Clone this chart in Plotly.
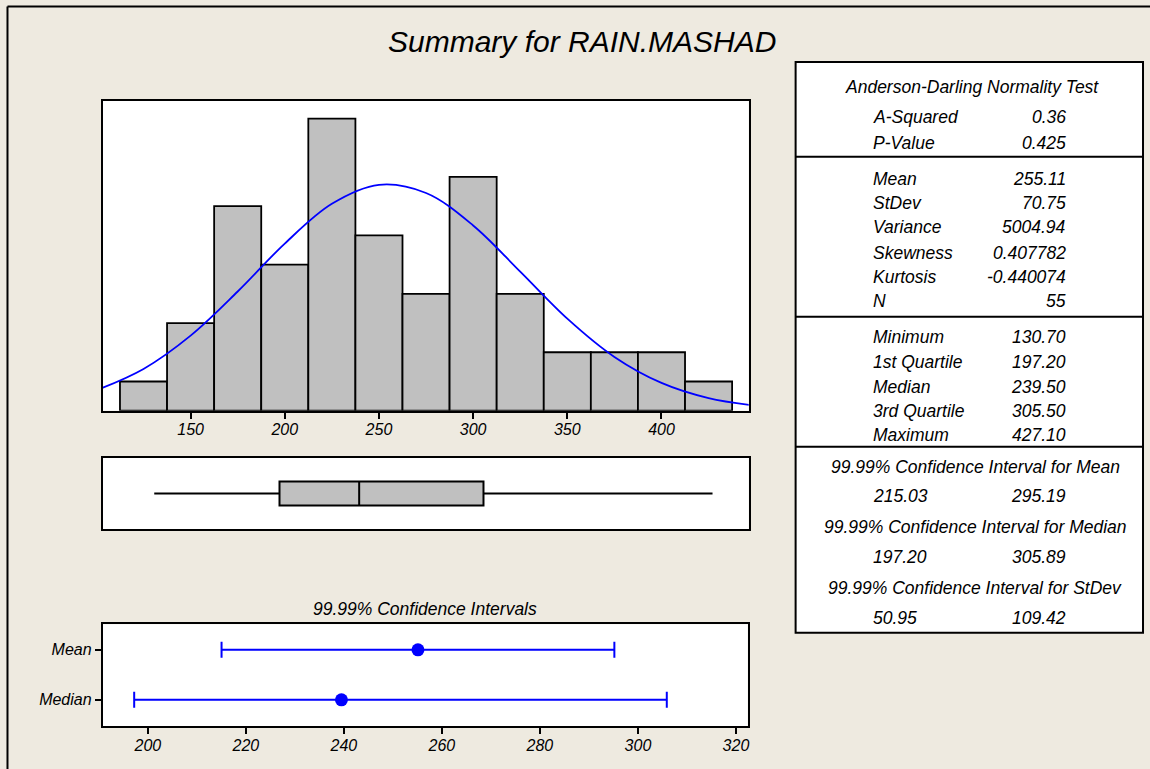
import plotly.graph_objects as go

# --- data ------------------------------------------------------------------
BIN_CENTERS = [125, 150, 175, 200, 225, 250, 275, 300, 325, 350, 375, 400, 425]
BIN_COUNTS = [1, 3, 7, 5, 10, 6, 4, 8, 4, 2, 2, 2, 1]
BIN_WIDTH = 25

# fitted normal curve (counts scale)
CURVE_X = [100, 125, 150, 175, 200, 225, 250, 275, 300, 325, 350, 375, 400, 425, 450]
CURVE_Y = [0.70, 1.43, 2.57, 4.08, 5.72, 7.08, 7.73, 7.45, 6.34, 4.76, 3.15, 1.84, 0.95, 0.43, 0.17]

# five-number summary for the boxplot
BOX_MIN, BOX_Q1, BOX_MEDIAN, BOX_Q3, BOX_MAX = 130.70, 197.20, 239.50, 305.50, 427.10

# 99.99% confidence intervals
CI_LABELS = ["Mean", "Median"]
CI_CENTER = [255.11, 239.50]
CI_LOWER = [215.03, 197.20]
CI_UPPER = [295.19, 305.89]
CI_TICKS = [200, 220, 240, 260, 280, 300, 320]
HIST_TICKS = [150, 200, 250, 300, 350, 400]

# summary table
AD_LABELS = ["A-Squared", "P-Value"]
AD_VALUES = ["0.36", "0.425"]
MOM_LABELS = ["Mean", "StDev", "Variance", "Skewness", "Kurtosis", "N"]
MOM_VALUES = ["255.11", "70.75", "5004.94", "0.407782", "-0.440074", "55"]
Q_LABELS = ["Minimum", "1st Quartile", "Median", "3rd Quartile", "Maximum"]
Q_VALUES = ["130.70", "197.20", "239.50", "305.50", "427.10"]
CI_TABLE_HEADERS = [
    "99.99% Confidence Interval for Mean",
    "99.99% Confidence Interval for Median",
    "99.99% Confidence Interval for StDev",
]
CI_TABLE_LOW = ["215.03", "197.20", "50.95"]
CI_TABLE_HIGH = ["295.19", "305.89", "109.42"]

# --- layout helpers ---------------------------------------------------------
W, H = 1150, 769
FONT = "Arial, Liberation Sans, sans-serif"
BG = "#EEEAE0"
GREY = "#C0C0C0"
BLUE = "#0000FF"


def px(x):
    return x / W


def py(y):
    return 1 - y / H


fig = go.Figure()

# histogram
fig.add_trace(go.Bar(
    x=BIN_CENTERS, y=BIN_COUNTS, width=BIN_WIDTH,
    marker=dict(color=GREY, line=dict(color="black", width=1.8)),
    xaxis="x", yaxis="y", hoverinfo="skip",
))
fig.add_trace(go.Scatter(
    x=CURVE_X, y=CURVE_Y, mode="lines", line=dict(color=BLUE, width=1.8, shape="spline"),
    xaxis="x", yaxis="y", hoverinfo="skip",
))

# boxplot
fig.add_trace(go.Box(
    y=[0], q1=[BOX_Q1], median=[BOX_MEDIAN], q3=[BOX_Q3],
    lowerfence=[BOX_MIN], upperfence=[BOX_MAX], orientation="h",
    width=0.68, whiskerwidth=0, fillcolor=GREY,
    line=dict(color="black", width=2), boxpoints=False,
    xaxis="x2", yaxis="y2", hoverinfo="skip",
))

# confidence intervals
fig.add_trace(go.Scatter(
    x=CI_CENTER, y=CI_LABELS, mode="markers",
    marker=dict(color=BLUE, size=13),
    error_x=dict(
        type="data", symmetric=False,
        array=[u - c for u, c in zip(CI_UPPER, CI_CENTER)],
        arrayminus=[c - l for c, l in zip(CI_CENTER, CI_LOWER)],
        color=BLUE, thickness=2, width=8,
    ),
    xaxis="x3", yaxis="y3", hoverinfo="skip",
))

frame = dict(showline=True, mirror=True, linecolor="black", linewidth=2,
             showgrid=False, zeroline=False)
tickfont = dict(family=FONT, size=16, color="black", style="italic")
dom_x = [px(103), px(750)]

fig.update_layout(
    width=W, height=H, margin=dict(l=0, r=0, t=0, b=0),
    paper_bgcolor=BG, plot_bgcolor="white", showlegend=False,
    xaxis=dict(domain=dom_x, range=[103.4, 446.3], tickvals=HIST_TICKS,
               ticks="outside", ticklen=6, tickwidth=1.5, tickcolor="black",
               ticklabelstandoff=-3, tickfont=tickfont, anchor="y", **frame),
    yaxis=dict(domain=[py(410.7), py(101)], range=[0, 10.6],
               showticklabels=False, ticks="", anchor="x", **frame),
    xaxis2=dict(domain=dom_x, matches="x", showticklabels=False, ticks="",
                anchor="y2", **frame),
    yaxis2=dict(domain=[py(529), py(458)], range=[-1, 1],
                showticklabels=False, ticks="", anchor="x2", **frame),
    xaxis3=dict(domain=[px(103), px(749)], range=[190.8, 322.4], tickvals=CI_TICKS,
                ticks="outside", ticklen=6, tickwidth=1.5, tickcolor="black",
                ticklabelstandoff=-3, tickfont=tickfont, anchor="y3", **frame),
    yaxis3=dict(domain=[py(726.3), py(624.3)], type="category",
                categoryorder="array", categoryarray=CI_LABELS[::-1],
                range=[-0.53, 1.51], ticks="outside", ticklen=6, tickwidth=1.5,
                tickcolor="black", tickfont=tickfont, anchor="x3", **frame),
)

ann = []
shapes = []


def text(x, y, s, size=17.5, anchor="center"):
    ann.append(dict(x=px(x), y=py(y), xref="paper", yref="paper", text=s,
                    showarrow=False, xanchor=anchor, yanchor="middle",
                    font=dict(family=FONT, size=size, color="black", style="italic")))


# titles
text(583, 42, "Summary for RAIN.MASHAD", size=30)
text(426, 609, "99.99% Confidence Intervals", size=17.5)

# table frame
LX, RX = 872.7, 1070
shapes.append(dict(type="rect", xref="paper", yref="paper",
                   x0=px(797), x1=px(1145), y0=py(632.7), y1=py(62),
                   line=dict(color="black", width=2), fillcolor="white", layer="below"))
for yy in [156.7, 316.7, 446.7]:
    shapes.append(dict(type="line", xref="paper", yref="paper",
                       x0=px(797), x1=px(1145), y0=py(yy), y1=py(yy),
                       line=dict(color="black", width=2)))

text(974, 87, "Anderson-Darling Normality Test")
for lab, val, yy in zip(AD_LABELS, AD_VALUES, [117.3, 142.7]):
    text(LX, yy, lab, anchor="left")
    text(RX, yy, val, anchor="right")
for lab, val, yy in zip(MOM_LABELS, MOM_VALUES, [179, 203.3, 227, 252.7, 277.3, 300.7]):
    text(LX, yy, lab, anchor="left")
    text(RX, yy, val, anchor="right")
for lab, val, yy in zip(Q_LABELS, Q_VALUES, [336.7, 362.3, 386.7, 410.7, 435]):
    text(LX, yy, lab, anchor="left")
    text(RX, yy, val, anchor="right")
for hdr, lo, hi, yh, yv in zip(CI_TABLE_HEADERS, CI_TABLE_LOW, CI_TABLE_HIGH,
                               [466.7, 526.7, 588.3], [495.7, 557.3, 618.3]):
    text(977, yh, hdr)
    text(LX, yv, lo, anchor="left")
    text(RX, yv, hi, anchor="right")

# outer window frame (left and top edges)
shapes.append(dict(type="line", xref="paper", yref="paper",
                   x0=px(7.5), x1=px(7.5), y0=-0.01, y1=py(6.5),
                   line=dict(color="black", width=2)))
shapes.append(dict(type="line", xref="paper", yref="paper",
                   x0=px(7.5), x1=1.01, y0=py(6.5), y1=py(6.5),
                   line=dict(color="black", width=2)))

fig.update_layout(annotations=ann, shapes=shapes)

fig.write_html(
    "out.html",
    config={"displayModeBar": False},
    post_script="document.body.style.margin='0';document.body.style.overflow='hidden';",
)
